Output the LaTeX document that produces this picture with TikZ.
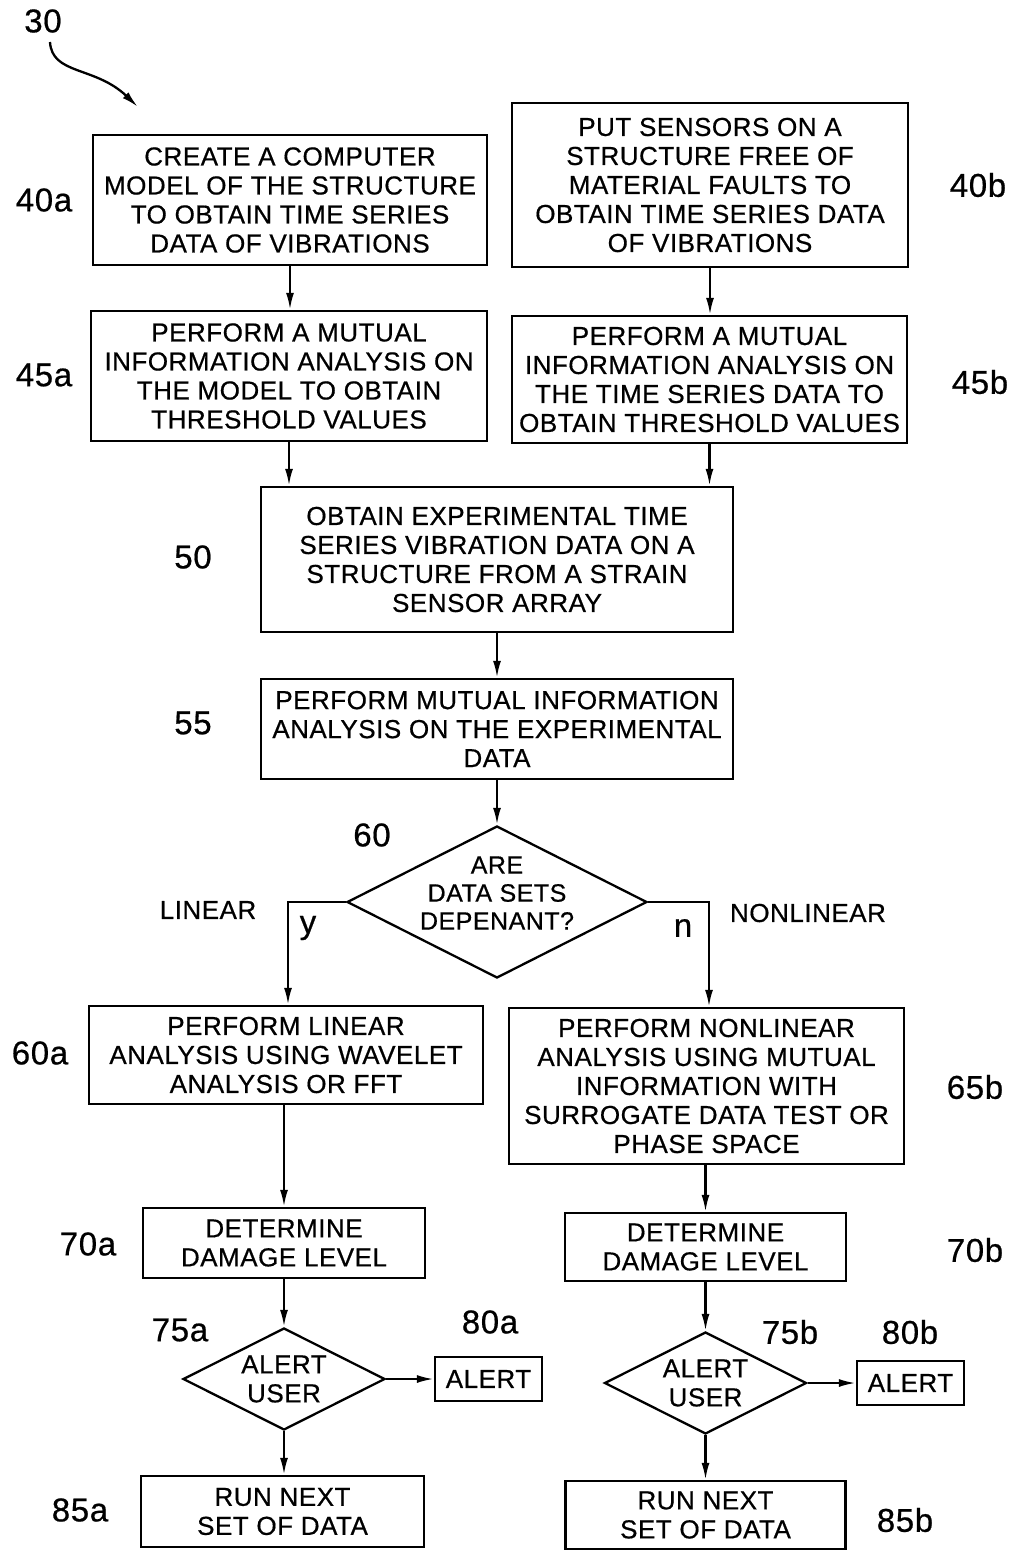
\documentclass[tikz,border=0pt]{standalone}
\usepackage{fontspec}
\setmainfont[LetterSpace=2,FakeBold=0.6]{Liberation Sans}
\usetikzlibrary{arrows.meta,shapes.geometric,calc}
\begin{document}
\begin{tikzpicture}[x=1pt,y=-1pt,
  line width=2.3pt,
  every node/.style={font=\fontsize{26}{29}\selectfont},
  box/.style={draw,rectangle,align=center,inner sep=0pt,line width=2.3pt},
  dia/.style={draw,diamond,inner sep=0pt,line width=2.3pt},
  lbl/.style={font=\fontsize{33}{36}\selectfont},
  arr/.style={-{Latex[length=17pt,width=8pt]}}
]
\useasboundingbox (0,0) rectangle (1019,1550);
% boxes
\node[box,minimum width=394pt,minimum height=130pt] (b40a) at (290,200) {CREATE A COMPUTER\\MODEL OF THE STRUCTURE\\TO OBTAIN TIME SERIES\\DATA OF VIBRATIONS};
\node[box,minimum width=396pt,minimum height=164pt] (b40b) at (710,185) {PUT SENSORS ON A\\STRUCTURE FREE OF\\MATERIAL FAULTS TO\\OBTAIN TIME SERIES DATA\\OF VIBRATIONS};
\node[box,minimum width=396pt,minimum height=130pt] (b45a) at (289,376) {PERFORM A MUTUAL\\INFORMATION ANALYSIS ON\\THE MODEL TO OBTAIN\\THRESHOLD VALUES};
\node[box,minimum width=395pt,minimum height=127pt] (b45b) at (709.5,379.5) {PERFORM A MUTUAL\\INFORMATION ANALYSIS ON\\THE TIME SERIES DATA TO\\OBTAIN THRESHOLD VALUES};
\node[box,minimum width=472pt,minimum height=145pt] (b50) at (497,559.5) {OBTAIN EXPERIMENTAL TIME\\SERIES VIBRATION DATA ON A\\STRUCTURE FROM A STRAIN\\SENSOR ARRAY};
\node[box,minimum width=472pt,minimum height=100pt] (b55) at (497,729) {PERFORM MUTUAL INFORMATION\\ANALYSIS ON THE EXPERIMENTAL\\DATA};
\node[dia,minimum width=300pt,minimum height=152pt] (d60) at (497,902) {};
\node[align=center,font=\fontsize{25}{28}\selectfont] (t60) at (497,893) {ARE\\DATA SETS\\DEPENANT?};
\node[box,minimum width=394pt,minimum height=98pt] (b60a) at (286,1055) {PERFORM LINEAR\\ANALYSIS USING WAVELET\\ANALYSIS OR FFT};
\node[box,minimum width=395pt,minimum height=156pt] (b65b) at (706.5,1086) {PERFORM NONLINEAR\\ANALYSIS USING MUTUAL\\INFORMATION WITH\\SURROGATE DATA TEST OR\\PHASE SPACE};
\node[box,minimum width=282pt,minimum height=70pt] (b70a) at (284,1243) {DETERMINE\\DAMAGE LEVEL};
\node[box,minimum width=281pt,minimum height=68pt] (b70b) at (705.5,1247) {DETERMINE\\DAMAGE LEVEL};
\node[dia,minimum width=202pt,minimum height=102pt] (d75a) at (284,1379) {};
\node[align=center] (t75a) at (d75a.center) {ALERT\\USER};
\node[box,minimum width=107pt,minimum height=44pt] (b80a) at (488.5,1379) {ALERT};
\node[dia,minimum width=202pt,minimum height=102pt] (d75b) at (705.5,1383) {};
\node[align=center] (t75b) at (d75b.center) {ALERT\\USER};
\node[box,minimum width=107pt,minimum height=44pt] (b80b) at (910.5,1383) {ALERT};
\node[box,minimum width=283pt,minimum height=71pt] (b85a) at (282.5,1511.5) {RUN NEXT\\SET OF DATA};
\node[box,minimum width=280pt,minimum height=68pt] (b85b) at (705.5,1515) {RUN NEXT\\SET OF DATA};
% labels
\node[lbl] (l30) at (43,21) {30};
\node[lbl] (l40a) at (44,200) {40a};
\node[lbl] (l40b) at (978,185) {40b};
\node[lbl] (l45a) at (44,375) {45a};
\node[lbl] (l45b) at (980,382) {45b};
\node[lbl] (l50) at (193,557) {50};
\node[lbl] (l55) at (193,723) {55};
\node[lbl] (l60) at (372,835) {60};
\node (lin) at (208,910) {LINEAR};
\node[lbl] (ly) at (308,928) {y};
\node[lbl] (ln) at (683,928) {n};
\node (nonlin) at (808,913) {NONLINEAR};
\node[lbl] (l60a) at (40,1053) {60a};
\node[lbl] (l65b) at (975,1087) {65b};
\node[lbl] (l70a) at (88,1244) {70a};
\node[lbl] (l70b) at (975,1250) {70b};
\node[lbl] (l75a) at (180,1330) {75a};
\node[lbl] (l80a) at (490,1322) {80a};
\node[lbl] (l75b) at (790,1332) {75b};
\node[lbl] (l80b) at (910,1332) {80b};
\node[lbl] (l85a) at (80,1510) {85a};
\node[lbl] (l85b) at (905,1520) {85b};
% connectors
\coordinate (c30s) at (50,42);
\coordinate (c30e) at (138,107);
\draw[arr] (c30s) .. controls (52,75) and (95,66) .. (c30e);
\draw[arr] (b40a.south) -- (b40a.south |- b45a.north);
\draw[arr] (b40b.south) -- (b40b.south |- b45b.north);
\draw[arr] (b45a.south) -- (b45a.south |- b50.north);
\draw[arr] (b45b.south) -- (b45b.south |- b50.north);
\draw[arr] (b50.south) -- (b55.north);
\draw[arr] (b55.south) -- (d60.north);
\coordinate (cy) at (288,902);
\coordinate (cn) at (709,902);
\draw[arr] (d60.west) -- (cy) -- (cy |- b60a.north);
\draw[arr] (d60.east) -- (cn) -- (cn |- b65b.north);
\draw[arr] (b60a.south -| b70a.north) -- (b70a.north);
\draw[arr] (b65b.south -| b70b.north) -- (b70b.north);
\draw[arr] (b70a.south) -- (d75a.north);
\draw[arr] (b70b.south) -- (d75b.north);
\draw[arr] (d75a.east) -- (b80a.west);
\draw[arr] (d75b.east) -- (b80b.west);
\draw[arr] (d75a.south) -- (d75a.south |- b85a.north);
\draw[arr] (d75b.south) -- (b85b.north);
\end{tikzpicture}
\end{document}
